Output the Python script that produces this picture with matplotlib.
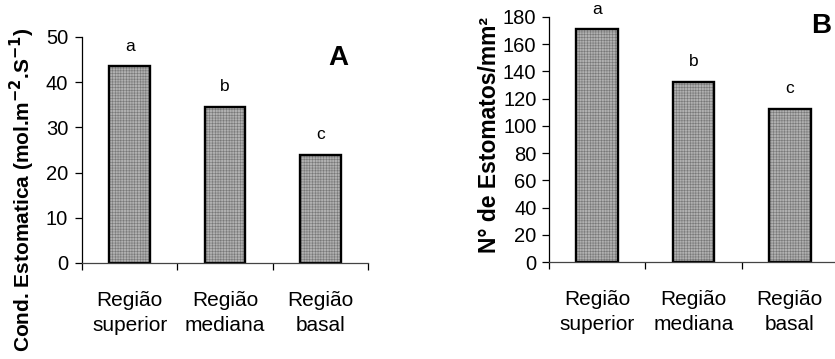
import matplotlib
matplotlib.use("Agg")
import matplotlib.pyplot as plt

plt.rcParams['font.family'] = ['Liberation Sans', 'DejaVu Sans']
plt.rcParams['hatch.linewidth'] = 0.4

regioes = ["Região\nsuperior", "Região\nmediana", "Região\nbasal"]
letras = ["a", "b", "c"]
cond_estomatica = [43.5, 34.5, 24.0]
n_estomatos = [171, 132.5, 112.5]


def painel(ax, valores, ymax, passo, letra_painel, pos_letra, pad_y=5):
    x = range(len(valores))
    # fill with fine grid texture, then a heavy black outline
    ax.bar(x, valores, width=0.43, color='#b0b0b0', hatch='++++++',
           edgecolor='#777777', linewidth=0)
    ax.bar(x, valores, width=0.43, fill=False, edgecolor='black', linewidth=1.7)
    for xi, v, l in zip(x, valores, letras):
        ax.annotate(l, (xi, v), xytext=(0, 14.5), textcoords='offset points',
                    ha='center', va='center', fontsize=12.5)
    ax.set_xlim(-0.5, 2.5)
    ax.set_ylim(0, ymax)
    ax.set_yticks(range(0, ymax + 1, passo))
    ax.set_xticks(list(x))
    ax.set_xticklabels(regioes, linespacing=1.4)
    ax.set_xticks([-0.5, 0.5, 1.5, 2.5], minor=True)
    ax.tick_params(axis='x', which='major', length=0, pad=20, labelsize=15)
    ax.tick_params(axis='x', which='minor', length=5, width=0.9, direction='out')
    ax.tick_params(axis='y', length=5, width=0.9, pad=pad_y, labelsize=14.5)
    for s in ['top', 'right']:
        ax.spines[s].set_visible(False)
    ax.spines['left'].set_linewidth(0.9)
    ax.spines['bottom'].set_linewidth(0.9)
    ax.spines['bottom'].set_color('#444444')
    ax.text(pos_letra[0], pos_letra[1], letra_painel, transform=ax.transAxes,
            ha='center', va='center', fontsize=20, fontweight='bold')


fig = plt.figure(figsize=(8.35, 3.59), dpi=100)

axA = fig.add_axes([82 / 835, 1 - 263 / 359, 286 / 835, 226 / 359])
painel(axA, cond_estomatica, 50, 10, "A", (0.897, 0.905))

axB = fig.add_axes([549 / 835, 1 - 262 / 359, 289 / 835, 245 / 359])
painel(axB, n_estomatos, 180, 20, "B", (0.94, 0.965), pad_y=4)

fig.text(22 / 835, 1 - 27 / 359, r"Cond. Estomatica (mol.m$^{\mathbf{-2}}$.S$^{\mathbf{-1}}$)",
         rotation=90, ha='center', va='top', fontsize=15, fontweight='bold')
fig.text(489 / 835, 1 - 17 / 359, "N° de Estomatos/mm²",
         rotation=90, ha='center', va='top', fontsize=16.5, fontweight='bold')

fig.savefig("out.png", dpi=100)
